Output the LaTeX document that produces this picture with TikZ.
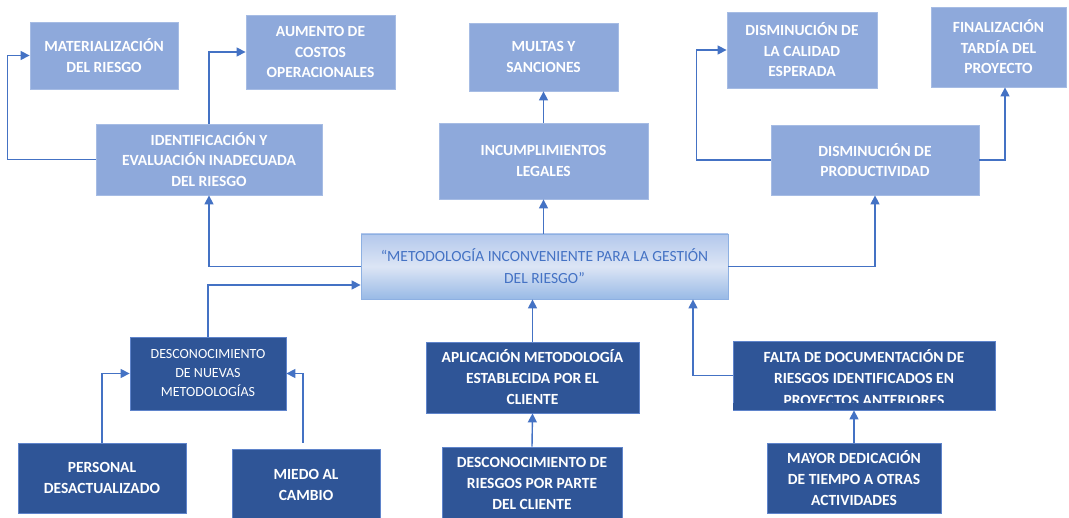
\documentclass[tikz,border=0pt]{standalone}
\usepackage{fontspec}
\setmainfont{Carlito}
\usetikzlibrary{arrows.meta}
\definecolor{lightbox}{HTML}{8EA9DB}
\definecolor{lightedge}{HTML}{A6BCE4}
\definecolor{darkbox}{HTML}{2F5597}
\definecolor{darkedge}{HTML}{5F84CB}
\definecolor{linecol}{HTML}{4472C4}
\definecolor{centeredge}{HTML}{8DB0E2}
\definecolor{ctop}{HTML}{B3C8EC}
\definecolor{cmid}{HTML}{DCE5F5}
\definecolor{cbot}{HTML}{99BAE6}
\begin{document}
\begin{tikzpicture}[x=1pt,y=1pt,
  boxtxt/.style={align=center, inner sep=0pt, line width=0.8pt},
  lbox/.style={boxtxt, draw=lightedge, fill=lightbox, text=white, font=\bfseries\fontsize{15.5}{20.5}\selectfont},
  dbox/.style={boxtxt, draw=darkedge, fill=darkbox, text=white, font=\bfseries\fontsize{15.5}{21}\selectfont},
  dboxthin/.style={boxtxt, draw=darkedge, fill=darkbox, text=white, font=\fontsize{14}{19}\selectfont},
  cbox/.style={boxtxt, draw=centeredge, top color=ctop, bottom color=cbot, middle color=cmid, text=linecol, font=\fontsize{15.5}{22}\selectfont},
  plaintxt/.style={align=center, inner sep=0pt, text=white, font=\bfseries\fontsize{15.5}{21.5}\selectfont},
  arr/.style={draw=linecol, line width=1.4pt, -{Triangle[length=9pt,width=9pt]}},
]
\useasboundingbox (0,0) rectangle (1069,-518);

% top row
\node[lbox, minimum width=148, minimum height=67] (mat) at (104,-55.5) {MATERIALIZACIÓN\\DEL RIESGO};
\node[lbox, minimum width=149, minimum height=74] (aum) at (320.5,-52) {AUMENTO DE\\COSTOS\\OPERACIONALES};
\node[lbox, minimum width=149, minimum height=68] (multas) at (543.5,-57) {MULTAS Y\\SANCIONES};
\node[lbox, minimum width=150, minimum height=76] (calidad) at (802,-50) {DISMINUCIÓN DE\\LA CALIDAD\\ESPERADA};
\node[lbox, minimum width=135, minimum height=80] (final) at (998.5,-47) {FINALIZACIÓN\\TARDÍA DEL\\PROYECTO};

% second row
\node[lbox, minimum width=226, minimum height=71] (ident) at (209,-159.5) {IDENTIFICACIÓN Y\\EVALUACIÓN INADECUADA\\DEL RIESGO};
\node[lbox, minimum width=209, minimum height=76] (incump) at (543.5,-161) {INCUMPLIMIENTOS\\LEGALES};
\node[lbox, minimum width=208, minimum height=70] (prod) at (875,-160) {DISMINUCIÓN DE\\PRODUCTIVIDAD};

% central problem
\node[cbox, minimum width=367, minimum height=65] (central) at (544.5,-266.5) {“METODOLOGÍA INCONVENIENTE PARA LA GESTIÓN\\DEL RIESGO”};

% causes
\node[dboxthin, minimum width=156, minimum height=73] (descnue) at (208,-373.5) {DESCONOCIMIENTO\\DE NUEVAS\\METODOLOGÍAS};
\node[dbox, minimum width=213, minimum height=71] (aplic) at (532.5,-377.5) {APLICACIÓN METODOLOGÍA\\ESTABLECIDA POR EL\\CLIENTE};
\node[boxtxt, draw=darkedge, fill=darkbox, minimum width=262, minimum height=69] (falta) at (864,-375.5) {};
\node[plaintxt, yshift=-2pt] (faltatxt) at (falta.center) {FALTA DE DOCUMENTACIÓN DE\\RIESGOS IDENTIFICADOS EN\\PROYECTOS ANTERIORES};
\fill[darkbox] ([xshift=0.6pt,yshift=0.6pt]falta.south west) rectangle ([xshift=-0.6pt,yshift=7pt]falta.south east);

\node[dbox, minimum width=168, minimum height=70] (personal) at (102,-478) {PERSONAL\\DESACTUALIZADO};
\node[dbox, minimum width=148, minimum height=72] (miedo) at (306,-485) {MIEDO AL\\CAMBIO};
\node[dbox, minimum width=180, minimum height=72] (descrie) at (532,-483) {DESCONOCIMIENTO DE\\RIESGOS POR PARTE\\DEL CLIENTE};
\node[dbox, minimum width=174, minimum height=70] (mayor) at (854,-478) {MAYOR DEDICACIÓN\\DE TIEMPO A OTRAS\\ACTIVIDADES};

\coordinate (m1) at (303,-443);

% connectors
\draw[arr] (ident.west) -- ++(-88,0) |- (mat.west);
\draw[arr] (ident.north) |- (aum.west);
\draw[arr] (central.west) -| (ident.south);
\draw[arr] (descnue.north) |- ([yshift=-18.5pt]central.west);
\draw[arr] (personal.north) |- (descnue.west);
\draw[arr] (m1) |- (descnue.east);
\draw[arr] (incump.south |- central.north) -- (incump.south);
\draw[arr] (incump.north) -- (multas.south);
\draw[arr] (central.east) -| (prod.south);
\draw[arr] (prod.west) -- ++(-74,0) |- (calidad.west);
\draw[arr] (prod.east) -| ([xshift=6.5pt]final.south);
\draw[arr] (aplic.north) -- (aplic.north |- central.south);
\draw[arr] (descrie.north) -- (aplic.south);
\draw[arr] (falta.west) -| ([xshift=148.5pt]central.south);
\draw[arr] (mayor.north) -- (mayor.north |- falta.south);
\end{tikzpicture}
\end{document}
